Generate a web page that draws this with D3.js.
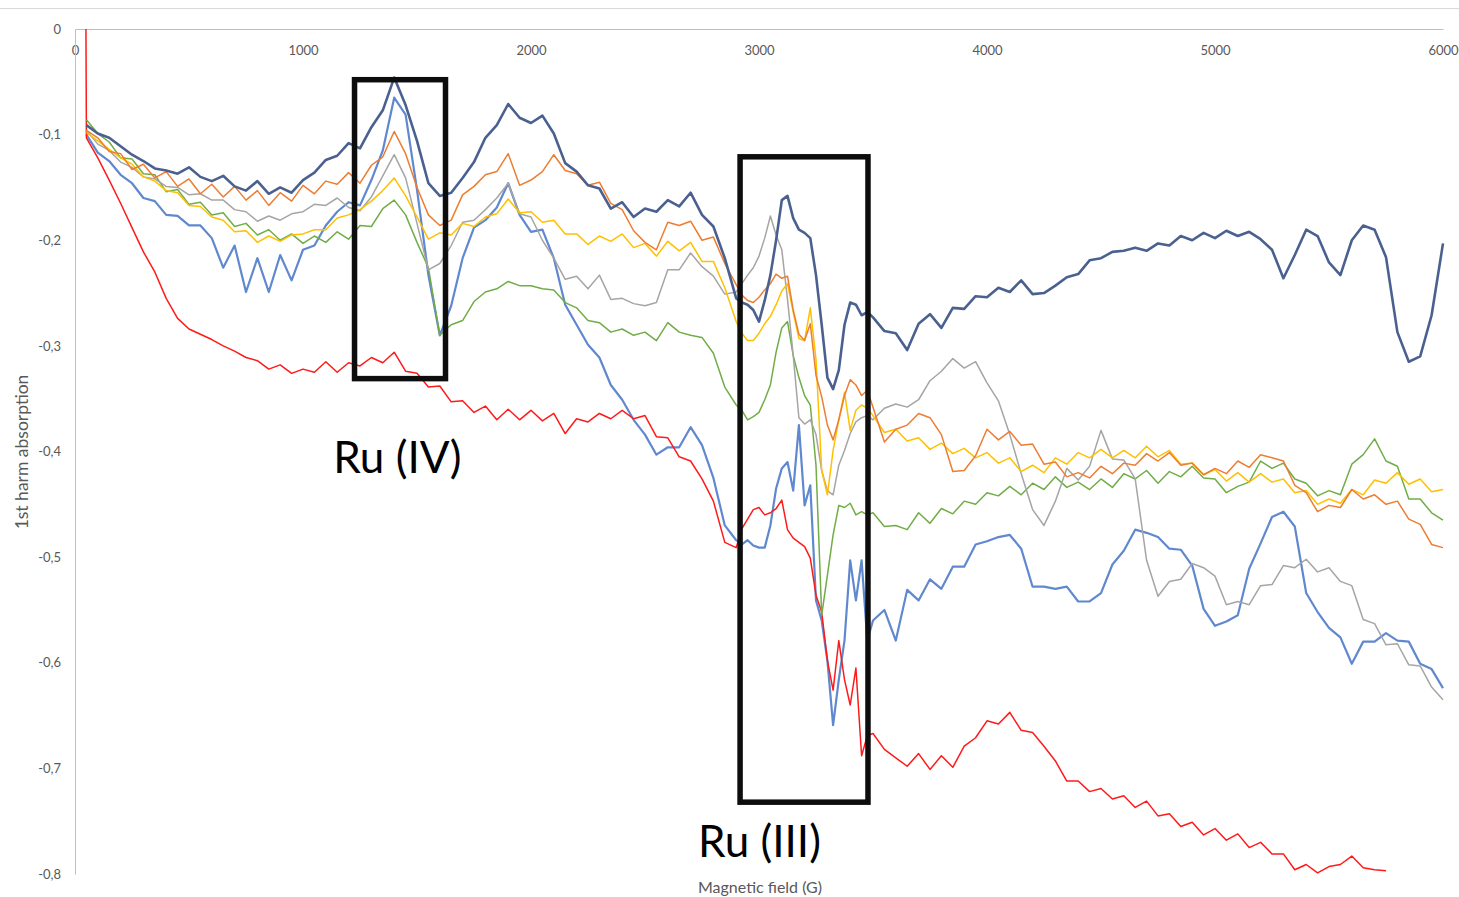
<!DOCTYPE html>
<html>
<head>
<meta charset="utf-8">
<script src="https://cdn.jsdelivr.net/npm/d3@7"></script>
<style>
  body { margin: 0; background: #fff; }
  svg { display: block; }
  text { font-family: Lato, "Open Sans", sans-serif; }
</style>
</head>
<body>
<div id="chart"></div>
<script>
// Magnetic field (G) sampling points, shared by all series
const field = [48,
  50,100,150,200,250,300,350,400,450,500,550,600,650,700,750,800,850,900,950,1000,
  1050,1100,1150,1200,1250,1300,1350,1400,1450,1500,1550,1600,1650,1700,1750,1800,1850,1900,1950,2000,
  2050,2100,2150,2200,2250,2300,2350,2400,2450,2500,2550,2600,2650,2700,2750,2800,2850,
  2900,2925,2950,2975,3000,3025,3050,3075,3100,3125,3150,3175,3200,3225,3250,3275,3300,3325,3350,3375,3400,3425,3450,3475,
  3500,3550,3600,3650,3700,3750,3800,3850,3900,3950,4000,4050,4100,4150,4200,4250,4300,4350,4400,4450,4500,
  4550,4600,4650,4700,4750,4800,4850,4900,4950,5000,5050,5100,5150,5200,5250,5300,5350,5400,5450,5500,
  5550,5600,5650,5700,5750,5800,5850,5900,5950,6000]

const darkBlue = [null,
  -0.091,-0.099,-0.103,-0.111,-0.119,-0.125,-0.132,-0.134,-0.137,-0.131,-0.140,-0.144,-0.139,-0.149,-0.153,-0.144,-0.156,-0.150,-0.155,-0.143,
  -0.136,-0.124,-0.120,-0.108,-0.113,-0.093,-0.077,-0.046,-0.072,-0.106,-0.146,-0.158,-0.155,-0.141,-0.126,-0.103,-0.091,-0.071,-0.084,-0.089,
  -0.082,-0.099,-0.127,-0.135,-0.148,-0.151,-0.170,-0.164,-0.178,-0.170,-0.173,-0.162,-0.168,-0.155,-0.176,-0.187,-0.217,
  -0.255,-0.259,-0.261,-0.266,-0.277,-0.257,-0.233,-0.200,-0.162,-0.158,-0.179,-0.190,-0.193,-0.198,-0.233,-0.280,-0.330,-0.341,-0.323,-0.280,-0.259,-0.261,-0.271,-0.268,
  -0.273,-0.286,-0.288,-0.304,-0.279,-0.270,-0.283,-0.264,-0.265,-0.253,-0.254,-0.245,-0.249,-0.238,-0.251,-0.250,-0.243,-0.235,-0.232,-0.219,-0.217,
  -0.211,-0.210,-0.207,-0.210,-0.203,-0.205,-0.196,-0.200,-0.193,-0.198,-0.191,-0.196,-0.192,-0.199,-0.209,-0.236,-0.214,-0.190,-0.196,-0.221,
  -0.233,-0.200,-0.186,-0.190,-0.216,-0.287,-0.315,-0.310,-0.271,-0.203]

const orange = [null,
  -0.096,-0.103,-0.116,-0.118,-0.133,-0.128,-0.141,-0.135,-0.149,-0.142,-0.156,-0.147,-0.159,-0.149,-0.162,-0.153,-0.167,-0.155,-0.163,-0.148,
  -0.156,-0.144,-0.147,-0.136,-0.146,-0.129,-0.121,-0.097,-0.118,-0.150,-0.176,-0.186,-0.181,-0.157,-0.149,-0.138,-0.135,-0.118,-0.148,-0.143,
  -0.135,-0.119,-0.134,-0.137,-0.148,-0.145,-0.165,-0.171,-0.191,-0.202,-0.209,-0.183,-0.186,-0.182,-0.200,-0.197,-0.222,
  -0.242,-0.252,-0.257,-0.259,-0.254,-0.247,-0.241,-0.232,-0.236,-0.234,-0.266,-0.289,-0.295,-0.279,-0.328,-0.348,-0.375,-0.389,-0.370,-0.347,-0.332,-0.337,-0.347,-0.342,
  -0.358,-0.391,-0.379,-0.375,-0.364,-0.368,-0.384,-0.419,-0.418,-0.404,-0.379,-0.389,-0.381,-0.394,-0.393,-0.412,-0.410,-0.424,-0.420,-0.425,-0.414,
  -0.421,-0.411,-0.413,-0.402,-0.409,-0.401,-0.413,-0.411,-0.422,-0.416,-0.421,-0.409,-0.415,-0.403,-0.406,-0.409,-0.432,-0.439,-0.457,-0.451,
  -0.453,-0.436,-0.445,-0.441,-0.450,-0.447,-0.464,-0.469,-0.488,-0.491]

const gray = [null,
  -0.096,-0.109,-0.115,-0.126,-0.131,-0.140,-0.142,-0.149,-0.150,-0.157,-0.156,-0.162,-0.162,-0.171,-0.173,-0.182,-0.177,-0.181,-0.175,-0.173,
  -0.166,-0.167,-0.160,-0.169,-0.172,-0.159,-0.139,-0.119,-0.141,-0.184,-0.228,-0.222,-0.205,-0.183,-0.181,-0.171,-0.160,-0.146,-0.175,-0.178,
  -0.200,-0.217,-0.237,-0.234,-0.246,-0.233,-0.256,-0.255,-0.260,-0.262,-0.259,-0.228,-0.228,-0.212,-0.225,-0.234,-0.251,
  -0.249,-0.241,-0.233,-0.226,-0.215,-0.198,-0.177,-0.195,-0.209,-0.256,-0.309,-0.368,-0.374,-0.370,-0.384,-0.418,-0.437,-0.441,-0.413,-0.399,-0.383,-0.372,-0.368,-0.366,
  -0.370,-0.359,-0.355,-0.358,-0.351,-0.333,-0.324,-0.312,-0.321,-0.315,-0.335,-0.352,-0.384,-0.421,-0.455,-0.470,-0.447,-0.416,-0.427,-0.414,-0.380,
  -0.407,-0.408,-0.426,-0.503,-0.537,-0.523,-0.521,-0.506,-0.510,-0.518,-0.545,-0.542,-0.545,-0.527,-0.526,-0.508,-0.510,-0.502,-0.514,-0.510,
  -0.523,-0.527,-0.559,-0.563,-0.583,-0.582,-0.602,-0.603,-0.623,-0.635]

const yellow = [null,
  -0.098,-0.106,-0.114,-0.122,-0.128,-0.140,-0.144,-0.153,-0.155,-0.167,-0.168,-0.178,-0.181,-0.192,-0.191,-0.202,-0.196,-0.201,-0.195,-0.194,
  -0.190,-0.190,-0.179,-0.176,-0.171,-0.163,-0.153,-0.141,-0.158,-0.178,-0.199,-0.193,-0.195,-0.184,-0.187,-0.178,-0.175,-0.161,-0.174,-0.173,
  -0.183,-0.181,-0.194,-0.194,-0.204,-0.196,-0.201,-0.194,-0.207,-0.203,-0.215,-0.201,-0.210,-0.202,-0.220,-0.220,-0.245,
  -0.277,-0.288,-0.295,-0.295,-0.288,-0.279,-0.272,-0.261,-0.248,-0.241,-0.268,-0.293,-0.295,-0.264,-0.313,-0.418,-0.441,-0.399,-0.370,-0.344,-0.380,-0.361,-0.356,-0.359,
  -0.366,-0.382,-0.379,-0.390,-0.387,-0.398,-0.392,-0.402,-0.397,-0.406,-0.401,-0.411,-0.406,-0.419,-0.413,-0.420,-0.406,-0.412,-0.401,-0.406,-0.398,
  -0.406,-0.399,-0.406,-0.395,-0.405,-0.399,-0.412,-0.411,-0.422,-0.417,-0.428,-0.420,-0.429,-0.421,-0.429,-0.426,-0.439,-0.437,-0.450,-0.445,
  -0.449,-0.436,-0.441,-0.427,-0.430,-0.420,-0.431,-0.426,-0.438,-0.436]

const lightBlue = [null,
  -0.100,-0.117,-0.125,-0.138,-0.146,-0.160,-0.163,-0.176,-0.177,-0.186,-0.186,-0.198,-0.226,-0.205,-0.249,-0.217,-0.249,-0.214,-0.238,-0.209,
  -0.205,-0.186,-0.173,-0.164,-0.167,-0.143,-0.115,-0.065,-0.081,-0.152,-0.233,-0.290,-0.262,-0.217,-0.188,-0.181,-0.169,-0.146,-0.176,-0.192,
  -0.190,-0.217,-0.261,-0.280,-0.299,-0.311,-0.337,-0.351,-0.370,-0.384,-0.403,-0.396,-0.396,-0.377,-0.394,-0.425,-0.470,
  -0.484,-0.488,-0.484,-0.489,-0.491,-0.491,-0.470,-0.435,-0.416,-0.410,-0.437,-0.375,-0.451,-0.432,-0.541,-0.560,-0.598,-0.659,-0.616,-0.579,-0.503,-0.541,-0.503,-0.579,
  -0.560,-0.550,-0.579,-0.531,-0.541,-0.521,-0.530,-0.509,-0.509,-0.488,-0.485,-0.481,-0.479,-0.492,-0.528,-0.528,-0.530,-0.528,-0.542,-0.542,-0.534,
  -0.507,-0.494,-0.474,-0.477,-0.481,-0.492,-0.493,-0.508,-0.549,-0.565,-0.561,-0.555,-0.511,-0.487,-0.462,-0.457,-0.471,-0.534,-0.552,-0.567,
  -0.576,-0.601,-0.580,-0.580,-0.572,-0.579,-0.580,-0.601,-0.606,-0.624]

const green = [null,
  -0.086,-0.099,-0.107,-0.122,-0.123,-0.137,-0.138,-0.154,-0.152,-0.166,-0.164,-0.176,-0.174,-0.187,-0.184,-0.195,-0.190,-0.200,-0.194,-0.203,
  -0.196,-0.202,-0.192,-0.199,-0.186,-0.187,-0.170,-0.162,-0.176,-0.202,-0.226,-0.290,-0.280,-0.276,-0.258,-0.249,-0.246,-0.239,-0.243,-0.243,
  -0.246,-0.247,-0.259,-0.264,-0.276,-0.278,-0.287,-0.284,-0.290,-0.287,-0.295,-0.278,-0.287,-0.290,-0.292,-0.307,-0.339,
  -0.356,-0.361,-0.370,-0.367,-0.363,-0.351,-0.337,-0.306,-0.283,-0.277,-0.309,-0.330,-0.347,-0.356,-0.413,-0.555,-0.517,-0.479,-0.451,-0.453,-0.449,-0.460,-0.457,-0.460,
  -0.458,-0.471,-0.470,-0.474,-0.458,-0.468,-0.454,-0.459,-0.447,-0.450,-0.439,-0.442,-0.433,-0.441,-0.430,-0.436,-0.424,-0.434,-0.429,-0.436,-0.426,
  -0.434,-0.421,-0.426,-0.418,-0.430,-0.419,-0.424,-0.414,-0.425,-0.426,-0.439,-0.433,-0.429,-0.409,-0.416,-0.411,-0.426,-0.430,-0.442,-0.437,
  -0.441,-0.412,-0.403,-0.388,-0.409,-0.414,-0.445,-0.445,-0.458,-0.465]

const red = [0,
  -0.103,-0.122,-0.143,-0.165,-0.188,-0.211,-0.230,-0.255,-0.274,-0.284,-0.289,-0.294,-0.300,-0.305,-0.311,-0.314,-0.322,-0.318,-0.326,-0.322,
  -0.325,-0.315,-0.325,-0.316,-0.319,-0.311,-0.316,-0.306,-0.324,-0.326,-0.339,-0.338,-0.353,-0.352,-0.363,-0.357,-0.370,-0.360,-0.370,-0.361,
  -0.371,-0.364,-0.383,-0.369,-0.372,-0.364,-0.369,-0.361,-0.369,-0.366,-0.386,-0.387,-0.405,-0.409,-0.426,-0.447,-0.486,
  -0.491,-0.473,-0.464,-0.455,-0.453,-0.460,-0.458,-0.454,-0.446,-0.474,-0.482,-0.486,-0.490,-0.501,-0.536,-0.552,-0.598,-0.626,-0.579,-0.616,-0.640,-0.605,-0.688,-0.669,
  -0.667,-0.682,-0.690,-0.698,-0.686,-0.701,-0.688,-0.699,-0.679,-0.671,-0.655,-0.658,-0.647,-0.664,-0.666,-0.679,-0.693,-0.712,-0.712,-0.722,-0.719,
  -0.729,-0.726,-0.737,-0.731,-0.745,-0.743,-0.755,-0.751,-0.763,-0.757,-0.768,-0.762,-0.775,-0.770,-0.781,-0.781,-0.796,-0.791,-0.799,-0.793,
  -0.791,-0.783,-0.794,-0.796,-0.797,null,null,null,null,null]

const xTicks = [0, 1000, 2000, 3000, 4000, 5000, 6000]
const yTicks = [0, -0.1, -0.2, -0.3, -0.4, -0.5, -0.6, -0.7, -0.8]

// drawing order, bottom to top
const series = [
  {values: lightBlue, color: '#6088cf', width: 2.2},
  {values: red,       color: '#ff1a1a', width: 1.5},
  {values: green,     color: '#70ad47', width: 1.5},
  {values: gray,      color: '#a5a5a5', width: 1.5},
  {values: yellow,    color: '#ffc000', width: 1.5},
  {values: orange,    color: '#ed7d31', width: 1.5},
  {values: darkBlue,  color: '#4a6190', width: 2.6},
]

const W = 1459, H = 897

const svg = d3.select('#chart').append('svg')
  .attr('width', W)
  .attr('height', H)

svg.append('rect').attr('width', W).attr('height', H).attr('fill', '#fff')

// thin frame line at the top of the chart area
svg.append('line')
  .attr('x1', 0).attr('x2', W)
  .attr('y1', 8.5).attr('y2', 8.5)
  .attr('stroke', '#d9d9d9')

const x = d3.scaleLinear().domain([0, 6000]).range([75, 1443])
const y = d3.scaleLinear().domain([0, -0.8]).range([29, 874])

/* Axes */
const fmt = d => d === 0 ? '0' : '-' + Math.abs(d).toFixed(1).replace('.', ',')

const xAxis = svg.append('g')
  .attr('transform', `translate(0,${y(0)})`)
  .call(d3.axisBottom(x).tickValues(xTicks).tickFormat(d => String(d))
    .tickSize(0).tickSizeOuter(0).tickPadding(17))
const yAxis = svg.append('g')
  .attr('transform', `translate(${x(0)},0)`)
  .call(d3.axisLeft(y).tickValues(yTicks).tickFormat(fmt)
    .tickSize(0).tickSizeOuter(0).tickPadding(14))

;[xAxis, yAxis].forEach(a => {
  a.select('.domain').attr('stroke', '#bfbfbf')
  a.selectAll('.tick text')
    .attr('fill', '#595959')
    .style('font-size', '13px')
    .style('font-family', 'Lato, "Open Sans", sans-serif')
})

/* Lines */
const line = d3.line()
  .defined(d => d[1] != null)
  .x(d => x(d[0]))
  .y(d => y(d[1]))

series.forEach(s => {
  if (s.values.length !== field.length) console.error('length mismatch', s.color, s.values.length)
  svg.append('path')
    .datum(field.map((f, i) => [f, s.values[i]]))
    .attr('fill', 'none')
    .attr('stroke', s.color)
    .attr('stroke-width', s.width)
    .attr('stroke-linejoin', 'round')
    .attr('d', line)
})

/* Annotation boxes, in data units */
const boxes = [
  {x0: 1226, x1: 1625, y0: -0.048, y1: -0.331},
  {x0: 2917, x1: 3478, y0: -0.121, y1: -0.732},
]
svg.selectAll('.box').data(boxes).enter().append('rect')
  .attr('class', 'box')
  .attr('x', d => x(d.x0))
  .attr('y', d => y(d.y0))
  .attr('width', d => x(d.x1) - x(d.x0))
  .attr('height', d => y(d.y1) - y(d.y0))
  .attr('fill', 'none')
  .attr('stroke', '#0d0d0d')
  .attr('stroke-width', 5.5)

const labels = [
  {text: 'Ru (IV)', g: 1414, v: -0.420},
  {text: 'Ru (III)', g: 3002, v: -0.784},
]
svg.selectAll('.ann').data(labels).enter().append('text')
  .attr('class', 'ann')
  .attr('x', d => x(d.g))
  .attr('y', d => y(d.v))
  .attr('text-anchor', 'middle')
  .attr('fill', '#000')
  .style('font-size', '44px')
  .text(d => d.text)

/* Axis titles */
svg.append('text')
  .attr('x', 760).attr('y', 893)
  .attr('text-anchor', 'middle')
  .attr('fill', '#595959')
  .style('font-size', '16px')
  .text('Magnetic field (G)')

svg.append('text')
  .attr('transform', 'translate(28,452) rotate(-90)')
  .attr('text-anchor', 'middle')
  .attr('fill', '#595959')
  .style('font-size', '17.5px')
  .text('1st harm absorption')
</script>
</body>
</html>
